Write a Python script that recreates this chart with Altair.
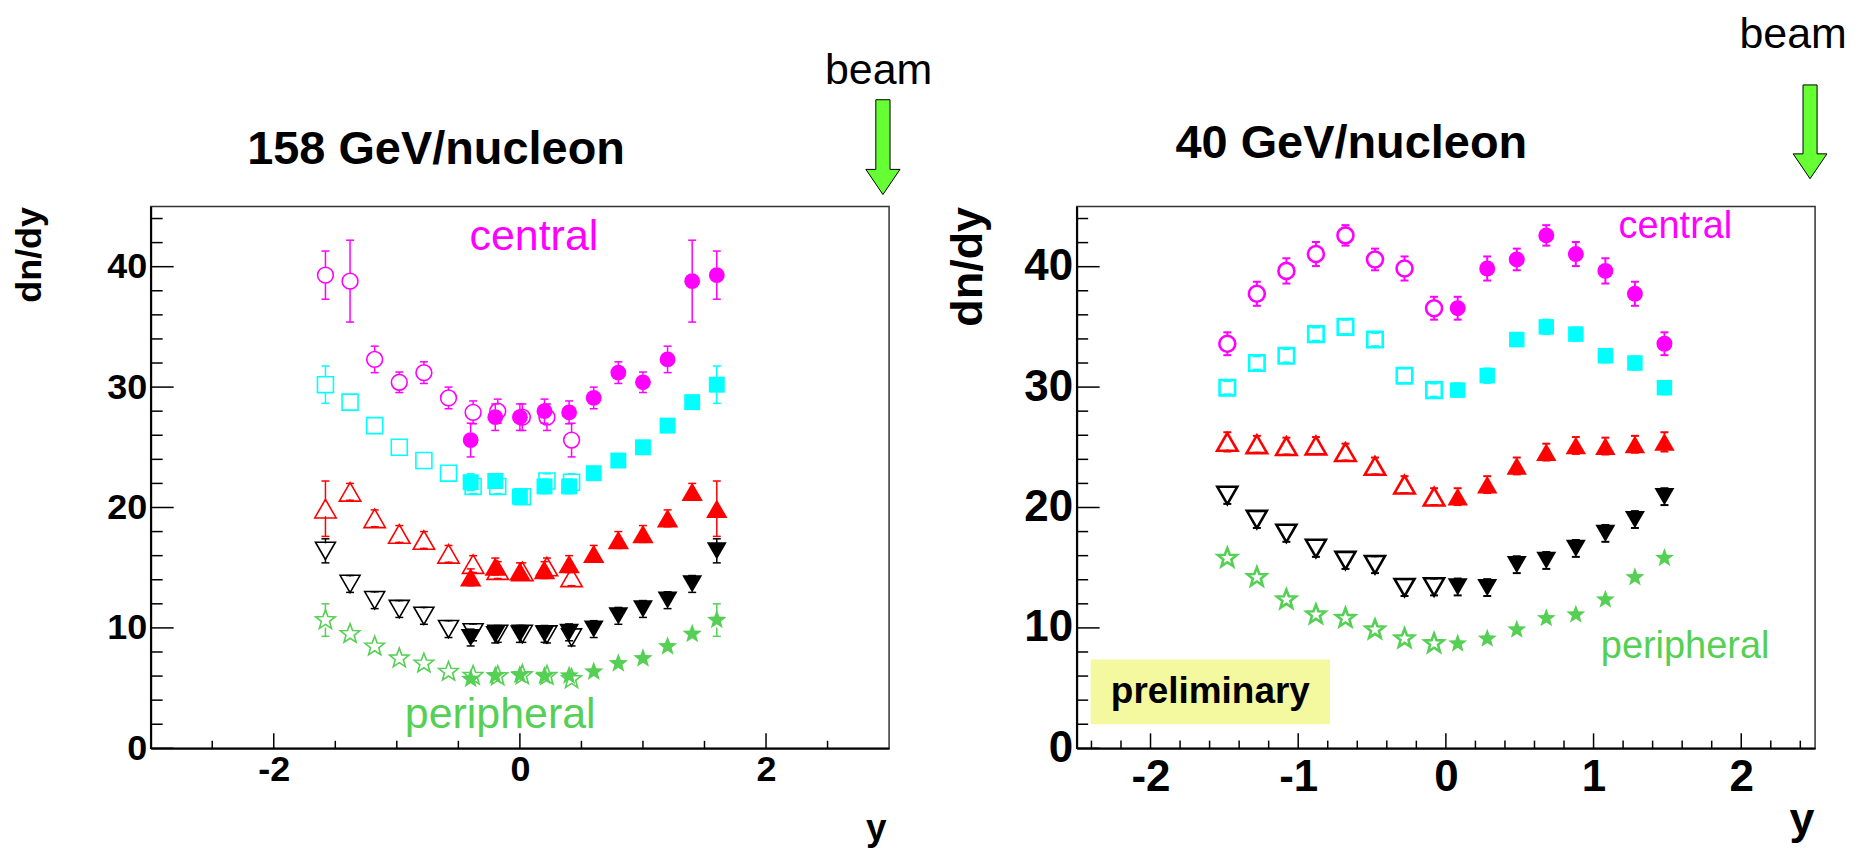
import math
import altair as alt
import pandas as pd

FONT = "Liberation Sans"
MAG, CYAN, RED, BLACK, GREEN = "#ff00ff", "#00ffff", "#ff0000", "#000000", "#55d055"
ARROW_GREEN = "#66ff33"
PRELIM_YELLOW = "#f4f9a0"

# ---------------- 158 GeV/nucleon (left) ----------------
L_X_MEAS = [-0.4, -0.2, 0.0, 0.2, 0.4, 0.6, 0.8, 1.0, 1.2, 1.4, 1.6]
L_X_REFL = [-1.58, -1.38, -1.18, -0.98, -0.78, -0.58, -0.38, -0.18, 0.02, 0.22, 0.42]

L_MAG_MEAS = [25.6, 27.5, 27.5, 28.0, 27.9, 29.1, 31.2, 30.4, 32.3, 38.8, 39.3]
L_MAG_MEAS_ERR = [1.4, 1.1, 1.1, 1.0, 0.95, 0.9, 0.9, 0.85, 1.1, 3.4, 2.0]
L_MAG_REFL = [39.3, 38.8, 32.3, 30.4, 31.2, 29.1, 27.9, 28.0, 27.5, 27.5, 25.6]
L_MAG_REFL_ERR = [2.0, 3.4, 1.1, 0.85, 0.9, 0.9, 0.95, 1.0, 1.1, 1.1, 1.4]

L_CYA_MEAS = [22.1, 22.2, 20.9, 21.75, 21.75, 22.85, 23.9, 25.0, 26.8, 28.75, 30.2]
L_CYA_MEAS_ERR = [0.7, 0.6, 0.6, 0.6, 0.6, 0.5, 0.5, 0.5, 0.5, 0.5, 1.55]
L_CYA_REFL = [30.2, 28.75, 26.8, 25.0, 23.9, 22.85, 21.75, 21.75, 20.9, 22.2, 22.1]
L_CYA_REFL_ERR = [1.55, 0.5, 0.5, 0.5, 0.5, 0.5, 0.6, 0.6, 0.6, 0.6, 0.7]

L_RED_MEAS = [14.2, 15.1, 14.7, 14.8, 15.3, 16.15, 17.3, 17.8, 19.1, 21.3, 19.9]
L_RED_MEAS_ERR = [0.7, 0.7, 0.7, 0.7, 0.7, 0.7, 0.7, 0.7, 0.7, 0.7, 2.3]
L_RED_REFL = [19.9, 21.3, 19.1, 17.8, 17.3, 16.15, 15.3, 14.8, 14.7, 15.1, 14.2]
L_RED_REFL_ERR = [2.3, 0.7, 0.7, 0.7, 0.7, 0.7, 0.7, 0.7, 0.7, 0.7, 0.7]

L_BLK_MEAS = [9.2, 9.45, 9.5, 9.5, 9.63, 9.9, 11.0, 11.57, 12.3, 13.65, 16.4]
L_BLK_MEAS_ERR = [0.7, 0.7, 0.7, 0.7, 0.7, 0.7, 0.7, 0.7, 0.7, 0.7, 1.0]
L_BLK_REFL = [16.4, 13.65, 12.3, 11.57, 11.0, 9.9, 9.63, 9.5, 9.5, 9.45, 9.2]
L_BLK_REFL_ERR = [1.0, 0.7, 0.7, 0.7, 0.7, 0.7, 0.7, 0.7, 0.7, 0.7, 0.7]

L_GRN_MEAS = [5.75, 6.03, 6.08, 6.0, 6.03, 6.36, 7.05, 7.47, 8.46, 9.5, 10.65]
L_GRN_MEAS_ERR = [0.4, 0.4, 0.4, 0.4, 0.4, 0.4, 0.4, 0.4, 0.4, 0.4, 1.35]
L_GRN_REFL = [10.65, 9.5, 8.46, 7.47, 7.05, 6.36, 6.03, 6.0, 6.08, 6.03, 5.75]
L_GRN_REFL_ERR = [1.35, 0.4, 0.4, 0.4, 0.4, 0.4, 0.4, 0.4, 0.4, 0.4, 0.4]

# ---------------- 40 GeV/nucleon (right) ----------------
R_X_MEAS = [0.08, 0.28, 0.48, 0.68, 0.88, 1.08, 1.28, 1.48]
R_X_REFL = [-1.48, -1.28, -1.08, -0.88, -0.68, -0.48, -0.28, -0.08]

R_MAG_MEAS = [36.55, 39.85, 40.6, 42.6, 41.05, 39.65, 37.75, 33.6]
R_MAG_MEAS_ERR = [0.95, 1.0, 0.9, 0.85, 1.0, 1.05, 1.0, 0.95]
R_MAG_REFL = [33.6, 37.75, 39.65, 41.05, 42.6, 40.6, 39.85, 36.55]
R_MAG_REFL_ERR = [0.95, 1.0, 1.05, 1.0, 0.85, 0.9, 1.0, 0.95]

R_CYA_MEAS = [29.75, 30.95, 33.95, 35.0, 34.4, 32.6, 32.0, 29.95]
R_CYA_MEAS_ERR = [0.55, 0.6, 0.55, 0.6, 0.55, 0.55, 0.55, 0.55]
R_CYA_REFL = [29.95, 32.0, 32.6, 34.4, 35.0, 33.95, 30.95, 29.75]
R_CYA_REFL_ERR = [0.55, 0.55, 0.55, 0.55, 0.6, 0.55, 0.6, 0.55]

R_RED_MEAS = [20.9, 21.9, 23.45, 24.6, 25.15, 25.1, 25.25, 25.45]
R_RED_MEAS_ERR = [0.7, 0.7, 0.7, 0.7, 0.7, 0.7, 0.7, 0.8]
R_RED_REFL = [25.45, 25.25, 25.1, 25.15, 24.6, 23.45, 21.9, 20.9]
R_RED_REFL_ERR = [0.8, 0.7, 0.7, 0.7, 0.7, 0.7, 0.7, 0.7]

R_BLK_MEAS = [13.4, 13.35, 15.25, 15.6, 16.6, 17.85, 19.0, 20.9]
R_BLK_MEAS_ERR = [0.7, 0.7, 0.7, 0.7, 0.7, 0.7, 0.7, 0.7]
R_BLK_REFL = [21.0, 19.0, 17.85, 16.6, 15.6, 15.25, 13.35, 13.4]
R_BLK_REFL_ERR = [0.7, 0.7, 0.7, 0.7, 0.7, 0.7, 0.7, 0.7]

R_GRN_MEAS = [8.7, 9.1, 9.85, 10.8, 11.1, 12.35, 14.2, 15.8]
R_GRN_MEAS_ERR = [0.4, 0.4, 0.4, 0.4, 0.4, 0.4, 0.4, 0.4]
R_GRN_REFL = [15.8, 14.2, 12.35, 11.1, 10.8, 9.85, 9.1, 8.7]
R_GRN_REFL_ERR = [0.4, 0.4, 0.4, 0.4, 0.4, 0.4, 0.4, 0.4]

# ---------------- axes ----------------
Y_DOMAIN = [0, 45]
Y_LABELS = [0, 10, 20, 30, 40]
Y_MINOR = [2, 4, 6, 8, 12, 14, 16, 18, 22, 24, 26, 28, 32, 34, 36, 38, 42, 44]
L_X_DOMAIN = [-3, 3]
L_X_LABELS = [-2, 0, 2]
L_X_MINOR = [-2.5, -1.5, -1.0, -0.5, 0.5, 1.0, 1.5, 2.5]
R_X_DOMAIN = [-2.5, 2.5]
R_X_LABELS = [-2, -1, 0, 1, 2]
R_X_MINOR = [-2.4, -2.2, -1.8, -1.6, -1.4, -1.2, -0.8, -0.6, -0.4, -0.2,
             0.2, 0.4, 0.6, 0.8, 1.2, 1.4, 1.6, 1.8, 2.2, 2.4]

# ---------------- marker shapes ----------------
def star_path():
    pts = []
    for k in range(10):
        r = 1.0 if k % 2 == 0 else 0.42
        a = -math.pi / 2 + k * math.pi / 5
        pts.append(f"{r*math.cos(a):.3f},{r*math.sin(a):.3f}")
    return "M" + "L".join(pts) + "Z"

STAR = star_path()
ARROW = "M-0.15,-1L0.15,-1L0.15,0.47L0.36,0.47L0,1L-0.36,0.47L-0.15,0.47Z"
HYPHEN_LABEL = "replace(datum.label, '\u2212', '-')"

W, H = 740, 543


def panel(cfg):
    sx = alt.Scale(domain=cfg["xdom"], nice=False, zero=False)
    sy = alt.Scale(domain=Y_DOMAIN, nice=False, zero=False)
    ax_x = alt.Axis(values=cfg["xlabels"], format="d", labelExpr=HYPHEN_LABEL, labelFont=FONT,
                    labelFontWeight="bold",
                    labelFontSize=cfg["lab_fs"], labelColor="black", labelPadding=cfg["xlabpad"],
                    labelFlush=False, labelOverlap=False, ticks=False, tickSize=0,
                    domain=True, domainColor="black", domainWidth=2, grid=False,
                    title="y", titleFont=FONT, titleFontWeight="bold", titleFontSize=cfg["xt_fs"],
                    titleColor="black", titleAlign="right", titleBaseline="alphabetic",
                    titleX=cfg["xt_x"], titleY=cfg["xt_y"])
    ax_y = alt.Axis(values=Y_LABELS, format="d", labelFont=FONT, labelFontWeight="bold",
                    labelFontSize=cfg["lab_fs"], labelColor="black", labelPadding=4,
                    labelFlush=False, labelOverlap=False, ticks=False, tickSize=0,
                    domain=True, domainColor="black", domainWidth=2, grid=False,
                    title="dn/dy", titleFont=FONT, titleFontWeight="bold", titleFontSize=cfg["yt_fs"],
                    titleColor="black", titleAngle=270, titleAlign="right", titleBaseline="alphabetic",
                    titleX=cfg["yt_x"], titleY=0)

    def X(f):
        return alt.X(f, type="quantitative", scale=sx, axis=ax_x)

    def Y(f):
        return alt.Y(f, type="quantitative", scale=sy, axis=ax_y)

    def XD(v):
        return alt.XDatum(v, type="quantitative", scale=sx, axis=ax_x)

    def YD(v):
        return alt.YDatum(v, type="quantitative", scale=sy, axis=ax_y)

    xr = cfg["xdom"][1] - cfg["xdom"][0]
    px_x = W / xr
    px_y = H / (Y_DOMAIN[1] - Y_DOMAIN[0])
    layers = []

    # annotations (behind data)
    if cfg.get("prelim"):
        p = cfg["prelim"]
        layers.append(alt.Chart(pd.DataFrame({"k": [0]})).mark_rect(color=PRELIM_YELLOW, opacity=1).encode(
            x=XD(p["x0"]), x2=alt.X2Datum(p["x1"]), y=YD(p["y0"]), y2=alt.Y2Datum(p["y1"])))
        layers.append(alt.Chart(pd.DataFrame({"k": [0]})).mark_text(
            text="preliminary", font=FONT, fontWeight="bold", fontSize=37, color="black",
            align="center", baseline="alphabetic").encode(x=XD(p["tx"]), y=YD(p["ty"])))

    # inner ticks
    xt = pd.DataFrame({"pos": cfg["xlabels"] + cfg["xminor"],
                       "len": [cfg["xmaj_px"]] * len(cfg["xlabels"]) + [cfg["xmin_px"]] * len(cfg["xminor"])})
    xt["y0"] = Y_DOMAIN[0]
    xt["y1"] = Y_DOMAIN[0] + xt["len"] / px_y
    layers.append(alt.Chart(xt).mark_rule(color="black", strokeWidth=1.5).encode(
        x=X("pos"), y=Y("y0"), y2=alt.Y2("y1")))
    yt = pd.DataFrame({"pos": Y_LABELS + Y_MINOR,
                       "len": [cfg["ymaj_px"]] * len(Y_LABELS) + [cfg["ymin_px"]] * len(Y_MINOR)})
    yt["x0"] = cfg["xdom"][0]
    yt["x1"] = cfg["xdom"][0] + yt["len"] / px_x
    layers.append(alt.Chart(yt).mark_rule(color="black", strokeWidth=1.5).encode(
        x=X("x0"), x2=alt.X2("x1"), y=Y("pos")))

    gap = cfg["msize_px"] / 2 / px_y
    for s in cfg["series"]:
        for xs, ys, es, filled in ((s["xm"], s["ym"], s["em"], True), (s["xr"], s["yr"], s["er"], False)):
            segs, caps = [], []
            for x, y, e in zip(xs, ys, es):
                if e > gap:
                    segs.append({"x": x, "a": y - e, "b": y - gap})
                    segs.append({"x": x, "a": y + gap, "b": y + e})
                if e > 0.5:
                    caps.append({"x": x, "c": y - e})
                    caps.append({"x": x, "c": y + e})
            if segs:
                layers.append(alt.Chart(pd.DataFrame(segs)).mark_rule(
                    color=s["color"], strokeWidth=cfg["err_w"]).encode(x=X("x"), y=Y("a"), y2=alt.Y2("b")))
            if caps:
                layers.append(alt.Chart(pd.DataFrame(caps)).mark_tick(
                    orient="horizontal", size=8, thickness=cfg["err_w"], color=s["color"], opacity=1).encode(
                    x=X("x"), y=Y("c")))
            pts = pd.DataFrame({"x": xs, "y": ys})
            if filled:
                mk = alt.Chart(pts).mark_point(shape=s["shape"], size=s["size"], filled=True,
                                               color=s["color"], opacity=1, strokeWidth=0)
            else:
                mk = alt.Chart(pts).mark_point(shape=s["shape"], size=s["size"], filled=False,
                                               color=s["color"], opacity=1, strokeWidth=cfg["open_w"])
            layers.append(mk.encode(x=X("x"), y=Y("y")))

    one = pd.DataFrame({"k": [0]})
    a = cfg["ann"]
    layers.append(alt.Chart(one).mark_text(text=cfg["title"], font=FONT, fontWeight="bold", fontSize=47,
                                           color="black", align="left", baseline="alphabetic").encode(
        x=XD(a["title"][0]), y=YD(a["title"][1])))
    layers.append(alt.Chart(one).mark_text(text="beam", font=FONT, fontSize=43, color="black",
                                           align="center", baseline="alphabetic").encode(
        x=XD(a["beam"][0]), y=YD(a["beam"][1])))
    layers.append(alt.Chart(one).mark_point(shape=ARROW, size=a["arrow"][2], filled=True, fill=ARROW_GREEN,
                                            stroke="black", strokeWidth=1, opacity=1).encode(
        x=XD(a["arrow"][0]), y=YD(a["arrow"][1])))
    layers.append(alt.Chart(one).mark_text(text="central", font=FONT, fontSize=a["lab_fs"], color=MAG,
                                           align="center", baseline="alphabetic").encode(
        x=XD(a["central"][0]), y=YD(a["central"][1])))
    layers.append(alt.Chart(one).mark_text(text="peripheral", font=FONT, fontSize=a["lab_fs"], color=GREEN,
                                           align="center", baseline="alphabetic").encode(
        x=XD(a["peripheral"][0]), y=YD(a["peripheral"][1])))

    return alt.layer(*layers).properties(width=W, height=H)


left_cfg = dict(
    xdom=L_X_DOMAIN, xlabels=L_X_LABELS, xminor=L_X_MINOR, lab_fs=36, xlabpad=4,
    xt_fs=37, xt_x=737, xt_y=91, yt_fs=36, yt_x=-110,
    xmaj_px=15, xmin_px=7.5, ymaj_px=23, ymin_px=12, msize_px=15, err_w=1.5, open_w=1.6,
    title="158 GeV/nucleon",
    series=[
        dict(color=MAG, shape="circle", size=250, xm=L_X_MEAS, ym=L_MAG_MEAS, em=L_MAG_MEAS_ERR,
             xr=L_X_REFL, yr=L_MAG_REFL, er=L_MAG_REFL_ERR),
        dict(color=CYAN, shape="square", size=256, xm=L_X_MEAS, ym=L_CYA_MEAS, em=L_CYA_MEAS_ERR,
             xr=L_X_REFL, yr=L_CYA_REFL, er=L_CYA_REFL_ERR),
        dict(color=RED, shape="triangle-up", size=460, xm=L_X_MEAS, ym=L_RED_MEAS, em=L_RED_MEAS_ERR,
             xr=L_X_REFL, yr=L_RED_REFL, er=L_RED_REFL_ERR),
        dict(color=BLACK, shape="triangle-down", size=400, xm=L_X_MEAS, ym=L_BLK_MEAS, em=L_BLK_MEAS_ERR,
             xr=L_X_REFL, yr=L_BLK_REFL, er=L_BLK_REFL_ERR),
        dict(color=GREEN, shape=STAR, size=420, xm=L_X_MEAS, ym=L_GRN_MEAS, em=L_GRN_MEAS_ERR,
             xr=L_X_REFL, yr=L_GRN_REFL, er=L_GRN_REFL_ERR),
    ],
    ann=dict(title=(-2.216, 48.5), beam=(2.915, 55.2), arrow=(2.95, 49.93, 9025),
             central=(0.114, 41.4), peripheral=(-0.16, 1.66), lab_fs=43),
)

right_cfg = dict(
    xdom=R_X_DOMAIN, xlabels=R_X_LABELS, xminor=R_X_MINOR, lab_fs=44, xlabpad=7,
    xt_fs=45, xt_x=739, xt_y=85, yt_fs=45, yt_x=-95,
    xmaj_px=15, xmin_px=7.7, ymaj_px=23, ymin_px=11.5, msize_px=15, err_w=2, open_w=2.6,
    title="40 GeV/nucleon",
    series=[
        dict(color=MAG, shape="circle", size=256, xm=R_X_MEAS, ym=R_MAG_MEAS, em=R_MAG_MEAS_ERR,
             xr=R_X_REFL, yr=R_MAG_REFL, er=R_MAG_REFL_ERR),
        dict(color=CYAN, shape="square", size=240, xm=R_X_MEAS, ym=R_CYA_MEAS, em=R_CYA_MEAS_ERR,
             xr=R_X_REFL, yr=R_CYA_REFL, er=R_CYA_REFL_ERR),
        dict(color=RED, shape="triangle-up", size=420, xm=R_X_MEAS, ym=R_RED_MEAS, em=R_RED_MEAS_ERR,
             xr=R_X_REFL, yr=R_RED_REFL, er=R_RED_REFL_ERR),
        dict(color=BLACK, shape="triangle-down", size=400, xm=R_X_MEAS, ym=R_BLK_MEAS, em=R_BLK_MEAS_ERR,
             xr=R_X_REFL, yr=R_BLK_REFL, er=R_BLK_REFL_ERR),
        dict(color=GREEN, shape=STAR, size=400, xm=R_X_MEAS, ym=R_GRN_MEAS, em=R_GRN_MEAS_ERR,
             xr=R_X_REFL, yr=R_GRN_REFL, er=R_GRN_REFL_ERR),
    ],
    prelim=dict(x0=-2.405, x1=-0.784, y0=7.38, y1=1.99, tx=-1.595, ty=3.73),
    ann=dict(title=(-1.831, 49.0), beam=(2.351, 58.2), arrow=(2.466, 51.2, 8836),
             central=(1.554, 42.35), peripheral=(1.62, 7.54), lab_fs=38),
)

chart = alt.hconcat(panel(left_cfg), panel(right_cfg), spacing=188, bounds="flush").properties(
    padding={"left": 3, "top": 3, "right": 4, "bottom": 2}
).configure_view(stroke="#333333", strokeWidth=1.5)

chart.save("out.html", embed_options={"renderer": "svg", "actions": False})
